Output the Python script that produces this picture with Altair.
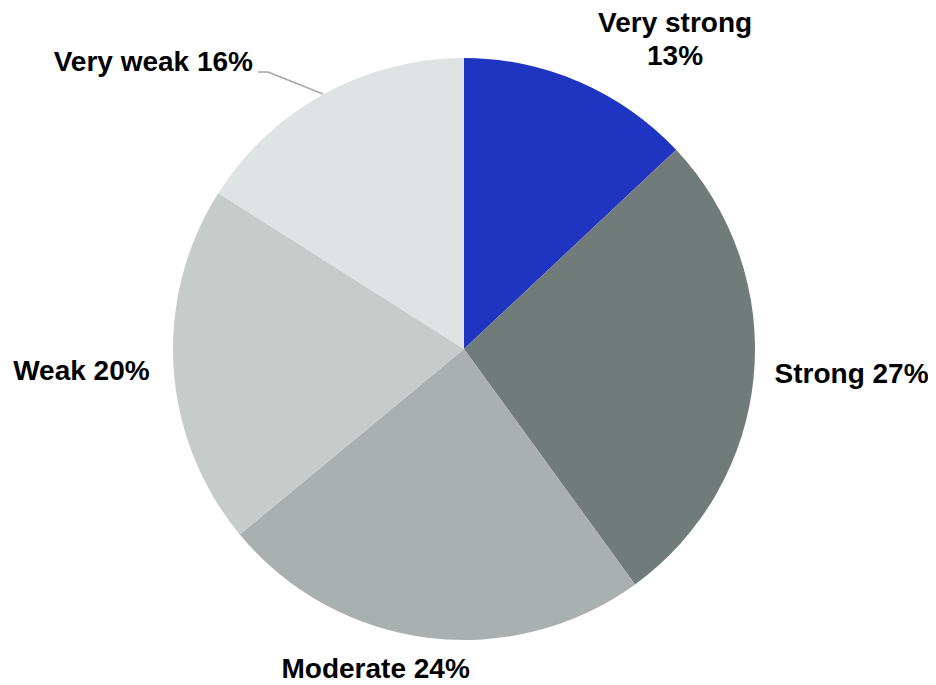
import altair as alt
import pandas as pd

categories = ["Very strong", "Strong", "Moderate", "Weak", "Very weak"]
values = [13, 27, 24, 20, 16]
colors = ["#1F35C1", "#707B7A", "#A9B0AF", "#C7CBCA", "#E0E3E4"]

labels = [
    f"{c}\n{v}%" if c == "Very strong" else f"{c} {v}%"
    for c, v in zip(categories, values)
]

df = pd.DataFrame({
    "cat": categories,
    "value": values,
    "idx": list(range(len(categories))),
    "label": labels,
})

CX, CY, R = 456, 341, 291
LABEL_R = 330
FONT = "Liberation Sans"

# label placement tweaks (style only)
placement = {
    "Very strong": dict(align="center", dx=80, dy=-22),
    "Strong": dict(align="left", dx=-18, dy=-5),
    "Moderate": dict(align="center", dx=-47, dy=-6),
    "Weak": dict(align="right", dx=15, dy=2),
    "Very weak": dict(align="right", dx=-52, dy=3),
}

base = alt.Chart(df).encode(
    theta=alt.Theta("value:Q", stack=True),
    order=alt.Order("idx:Q"),
    x=alt.value(CX),
    y=alt.value(CY),
)

pie = base.mark_arc(radius=R, stroke=None).encode(
    color=alt.Color("cat:N", scale=alt.Scale(domain=categories, range=colors), legend=None)
)

text_layers = []
for cat in categories:
    p = placement[cat]
    t = base.mark_text(
        radius=LABEL_R,
        align=p["align"],
        baseline="middle",
        dx=p["dx"],
        dy=p["dy"],
        font=FONT,
        fontSize=28,
        fontWeight="bold",
        color="#000000",
        lineBreak="\n",
        lineHeight=33,
    ).encode(
        text=alt.condition(alt.datum.cat == cat, "label:N", alt.value(""))
    )
    text_layers.append(t)

leader1 = alt.Chart(df.head(1)).mark_rule(color="#A6A6A6", strokeWidth=1.5).encode(
    x=alt.value(250), x2=alt.value(260), y=alt.value(64), y2=alt.value(64)
)
leader2 = alt.Chart(df.head(1)).mark_rule(color="#A6A6A6", strokeWidth=1.5).encode(
    x=alt.value(260), x2=alt.value(315), y=alt.value(64), y2=alt.value(86)
)

chart = alt.layer(pie, leader1, leader2, *text_layers).properties(
    width=920, height=677, padding=0, autosize=alt.AutoSizeParams(type="none")
).configure_view(stroke=None)

chart.save("out.html", embed_options={"renderer": "svg", "actions": False})
